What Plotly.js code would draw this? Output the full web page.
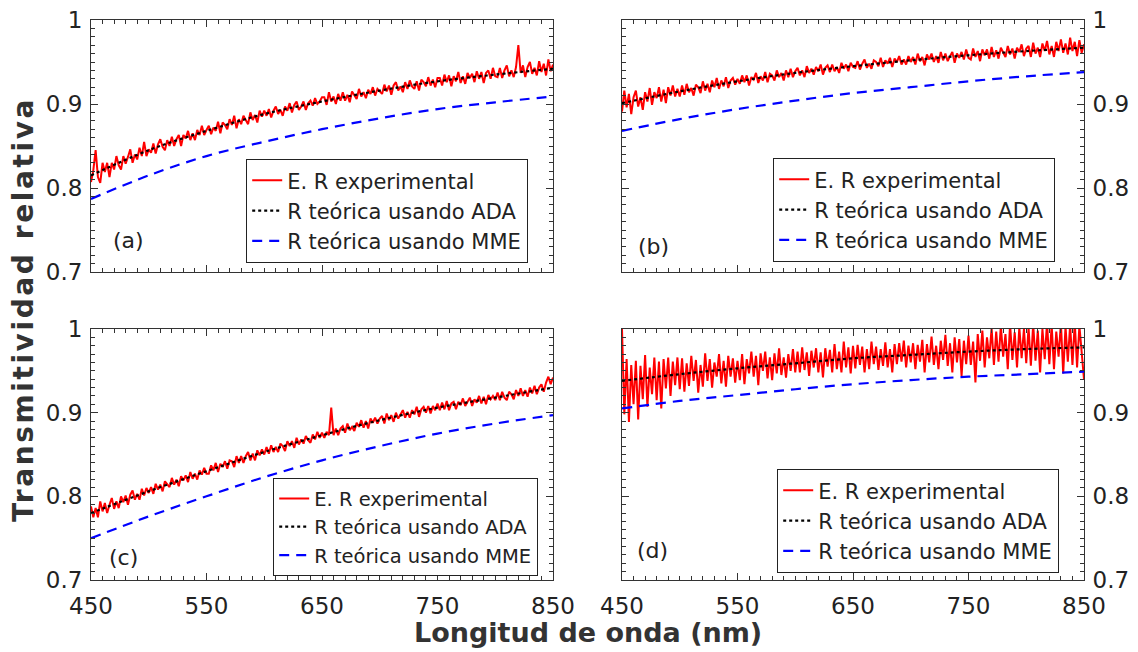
<!DOCTYPE html>
<html><head><meta charset="utf-8">
<script src="https://cdn.plot.ly/plotly-3.0.1.min.js"></script>
<style>
html,body{margin:0;padding:0;background:#fff}
#chart{width:1138px;height:652px}
.annotation[data-index="5"] .annotation-text{letter-spacing:2.6px}
</style>
</head><body><div id="chart"></div>
<script>
// Wavelength grid of the measured spectra (nm): start and step
const waveStart = 450, waveStep = 2;
// Wavelengths of the theoretical curves (nm)
const wlModel = [450,500,550,600,650,700,750,800,850];

// (a) measured relative transmittance
const expA = [.807,.821,.845,.813,.806,.830,.819,.830,.813,.830,.822,.838,.827,.822,.838,.829,.837,.846,.830,.840,.834,.848,.838,.855,.838,.846,
.842,.853,.841,.852,.858,.849,.845,.857,.850,.861,.850,.858,.863,.850,.863,.859,.868,.857,.865,.857,.869,.863,.874,.863,.869,
.874,.864,.872,.868,.879,.865,.878,.875,.870,.882,.875,.886,.871,.882,.876,.886,.881,.876,.890,.881,.887,.878,.892,.885,.892,
.886,.894,.884,.892,.897,.888,.893,.886,.897,.892,.901,.890,.899,.903,.893,.897,.903,.893,.901,.904,.898,.907,.900,.903,.908,
.908,.899,.914,.903,.909,.900,.912,.904,.914,.904,.911,.902,.915,.911,.906,.918,.909,.914,.907,.917,.912,.920,.910,.918,.915,
.912,.923,.915,.922,.911,.922,.926,.916,.921,.914,.926,.918,.928,.921,.918,.927,.916,.929,.926,.921,.932,.922,.929,.920,.931,
.931,.922,.935,.926,.934,.921,.933,.927,.938,.925,.933,.924,.937,.931,.936,.926,.939,.930,.938,.925,.937,.940,.930,.943,.933,
.932,.943,.931,.940,.946,.933,.940,.932,.944,.970,.937,.946,.932,.944,.950,.936,.943,.934,.951,.938,.948,.934,.953,.939,.947];
const adaA = [.815,.845,.868,.888,.903,.916,.927,.935,.942];
const mmeA = [.787,.815,.838,.855,.870,.883,.894,.902,.909];

// (b)
const expB = [.891,.916,.896,.912,.888,.908,.916,.897,.908,.893,.914,.903,.919,.899,.914,.907,.920,.903,.917,.901,.920,.910,.922,.909,.918,.909,
.922,.911,.924,.914,.919,.910,.923,.920,.913,.927,.916,.924,.914,.928,.920,.931,.918,.928,.921,.932,.919,.928,.931,.923,.930,
.924,.934,.926,.934,.922,.932,.929,.937,.925,.933,.928,.938,.926,.936,.934,.928,.940,.932,.937,.928,.940,.932,.942,.932,.939,
.943,.934,.940,.932,.945,.937,.942,.935,.944,.939,.947,.935,.943,.946,.938,.947,.939,.944,.937,.949,.942,.947,.939,.949,.944,
.943,.951,.941,.948,.953,.943,.948,.942,.952,.950,.945,.955,.944,.952,.948,.955,.944,.954,.950,.957,.947,.953,.947,.957,.950,
.956,.947,.960,.951,.956,.946,.959,.953,.960,.950,.957,.949,.962,.952,.960,.951,.957,.962,.949,.960,.955,.962,.953,.965,.955,
.953,.966,.956,.963,.951,.965,.958,.965,.954,.968,.956,.964,.954,.967,.962,.956,.969,.959,.966,.954,.967,.962,.971,.957,.966,
.969,.956,.973,.960,.967,.956,.972,.963,.975,.959,.969,.956,.974,.963,.977,.961,.972,.959,.979,.963,.974,.957,.976,.961,.971];
const adaB = [.901,.915,.927,.937,.945,.952,.958,.963,.967];
const mmeB = [.868,.882,.894,.904,.913,.920,.927,.933,.938];

// (c)
const expC = [.788,.775,.786,.775,.794,.782,.792,.780,.790,.798,.785,.794,.786,.800,.793,.801,.790,.802,.807,.796,.803,.796,.809,.801,.810,.804,
.811,.803,.815,.808,.814,.806,.818,.815,.811,.822,.814,.820,.812,.824,.819,.825,.817,.829,.821,.827,.820,.831,.826,.834,.827,
.827,.837,.831,.840,.829,.839,.835,.842,.833,.843,.842,.835,.848,.840,.848,.840,.848,.853,.843,.851,.843,.855,.849,.856,.850,
.859,.851,.861,.853,.859,.853,.863,.860,.854,.866,.860,.866,.858,.870,.862,.868,.863,.872,.867,.864,.874,.868,.877,.870,.876,
.870,.877,.873,.906,.873,.881,.873,.881,.884,.876,.887,.879,.883,.878,.888,.883,.891,.882,.890,.881,.893,.888,.894,.887,.893,
.896,.887,.899,.891,.897,.889,.900,.893,.898,.903,.894,.901,.894,.903,.898,.907,.895,.904,.907,.900,.908,.899,.908,.903,.911,
.903,.912,.904,.914,.903,.911,.913,.904,.913,.909,.917,.908,.913,.918,.908,.916,.912,.920,.911,.919,.910,.921,.916,.920,.915,
.924,.915,.925,.918,.915,.925,.922,.916,.927,.920,.929,.920,.927,.919,.930,.923,.932,.922,.930,.934,.925,.936,.943,.934,.942];
const adaC = [.780,.806,.830,.853,.873,.891,.906,.918,.930];
const mmeC = [.750,.776,.800,.823,.843,.860,.875,.887,.897];

// (d)
const expD = [1.0,.898,.964,.889,.957,.910,.962,.892,.956,.916,.969,.907,.954,.922,.966,.915,.961,.905,.964,.929,.966,.920,.961,.933,.966,.928,
.965,.925,.959,.932,.968,.938,.963,.924,.957,.931,.971,.938,.964,.930,.960,.943,.970,.935,.962,.931,.968,.943,.965,.936,.962,
.939,.970,.934,.964,.947,.973,.943,.968,.933,.971,.950,.973,.941,.966,.939,.971,.947,.977,.945,.966,.942,.970,.950,.976,.948,
.973,.948,.978,.951,.972,.944,.974,.954,.977,.948,.972,.942,.977,.955,.975,.948,.982,.952,.973,.948,.985,.954,.978,.947,.980,
.953,.981,.957,.979,.948,.976,.952,.985,.958,.979,.951,.976,.956,.984,.954,.976,.948,.982,.958,.983,.961,.986,.954,.980,.960,
.983,.952,.981,.961,.987,.948,.982,.960,.991,.957,.980,.952,.986,.963,.993,.956,.983,.948,.990,.960,.988,.944,.986,.958,.992,
.957,.985,.936,.994,.962,.998,.954,.990,.965,1.001,.957,.997,.961,1.004,.967,.994,.952,1.006,.963,.996,.954,1.002,.965,1.000,.959,
1.002,.956,1.006,.962,.998,.948,1.000,.964,1.008,.958,1.005,.952,.997,.967,1.007,.947,1.003,.961,1.005,.957,1.008,.954,1.004,.966,.940];
const adaD = [.938,.946,.953,.959,.965,.969,.973,.976,.978];
const mmeD = [.905,.914,.921,.928,.934,.939,.943,.946,.949];

const seriesNames = ['E. R experimental','R teórica usando ADA','R teórica usando MME'];
const panelLabels = ['(a)','(b)','(c)','(d)'];
const xTickVals = [450,550,650,750,850];
const yTickVals = [0.7,0.8,0.9,1];
const yTickText = ['0.7','0.8','0.9','1'];
const xTitle = 'Longitud de onda (nm)';
const yTitle = 'Transmitividad relativa';

const FONT = '"DejaVu Sans", Verdana, sans-serif';
const INK = '#222';
const W = 1138, H = 652;

const panels = [
  {exp: expA, ada: adaA, mme: mmeA, px:[91,553], py:[20,272], leg:[246,159], legFont:21, lab:[111,240], xlab:false, side:'left'},
  {exp: expB, ada: adaB, mme: mmeB, px:[622,1084], py:[20,272], leg:[773,158], legFont:21, lab:[636,247], xlab:false, side:'right'},
  {exp: expC, ada: adaC, mme: mmeC, px:[91,553], py:[329,580], leg:[273,478], legFont:19.5, lab:[107,557], xlab:true, side:'left'},
  {exp: expD, ada: adaD, mme: mmeD, px:[622,1084], py:[329,580], leg:[777,469], legFont:21, lab:[635,550], xlab:true, side:'right'}
];

const data = [];
const layout = {
  width: W, height: H, margin:{l:0,r:0,t:0,b:0},
  paper_bgcolor:'#fff', plot_bgcolor:'#fff',
  font:{family:FONT, color:INK},
  annotations: [],
  showlegend: true
};

panels.forEach((p, i) => {
  const s = i ? String(i+1) : '';
  const xa = 'x' + s, ya = 'y' + s, lg = 'legend' + s;
  data.push({type:'scatter', mode:'lines', x0:waveStart, dx:waveStep, y:p.exp, xaxis:xa, yaxis:ya, legend:lg,
    name:seriesNames[0], line:{color:'#ff0000', width:2}});
  data.push({type:'scatter', mode:'lines', x:wlModel, y:p.ada, xaxis:xa, yaxis:ya, legend:lg,
    name:seriesNames[1], line:{color:'#000', width:2.2, dash:'dot', shape:'spline'}});
  data.push({type:'scatter', mode:'lines', x:wlModel, y:p.mme, xaxis:xa, yaxis:ya, legend:lg,
    name:seriesNames[2], line:{color:'#0000ff', width:2.2, dash:'10px,7px', shape:'spline'}});

  layout['xaxis' + s] = {
    domain:[p.px[0]/W, p.px[1]/W], anchor:ya, range:[450,850],
    tickmode:'array', tickvals:xTickVals, showticklabels:p.xlab,
    ticks:'inside', ticklen:7, tickwidth:1, tickcolor:'#333',
    showline:true, linecolor:'#333', linewidth:1, mirror:'allticks',
    showgrid:false, zeroline:false, ticklabelstandoff:5,
    tickfont:{size:23, color:INK, family:FONT},
    minor:{tick0:450, dtick:10, ticks:'inside', ticklen:4, tickcolor:'#333', showgrid:false}
  };
  layout['yaxis' + s] = {
    domain:[1 - p.py[1]/H, 1 - p.py[0]/H], anchor:xa, range:[0.7,1], side:p.side,
    tickmode:'array', tickvals:yTickVals, ticktext:yTickText,
    ticks:'inside', ticklen:7, tickwidth:1, tickcolor:'#333',
    showline:true, linecolor:'#333', linewidth:1, mirror:'allticks',
    showgrid:false, zeroline:false, ticklabelstandoff:3,
    tickfont:{size:23, color:INK, family:FONT},
    minor:{tick0:0.7, dtick:0.01, ticks:'inside', ticklen:4, tickcolor:'#333', showgrid:false}
  };
  layout[lg] = {
    x:p.leg[0]/W, y:1 - p.leg[1]/H, xanchor:'left', yanchor:'top',
    bgcolor:'#fff', bordercolor:'#222', borderwidth:1.2,
    font:{size:p.legFont, color:INK, family:FONT}, itemwidth:30, tracegroupgap:0
  };
  layout.annotations.push({xref:'paper', yref:'paper', x:p.lab[0]/W, y:1 - p.lab[1]/H,
    xanchor:'left', yanchor:'middle', showarrow:false, text:panelLabels[i],
    font:{size:22, color:INK, family:FONT}});
});

layout.annotations.push({xref:'paper', yref:'paper', x:588/W, y:1 - 632/H, xanchor:'center', yanchor:'middle',
  showarrow:false, text:'<b>' + xTitle + '</b>', font:{size:27, color:'#333', family:FONT}});
layout.annotations.push({xref:'paper', yref:'paper', x:24/W, y:1 - 310/H, xanchor:'center', yanchor:'middle',
  showarrow:false, textangle:-90, text:'<b>' + yTitle + '</b>', font:{size:28, color:'#333', family:FONT}});

Plotly.newPlot('chart', data, layout, {staticPlot:true, displayModeBar:false});
</script>
</body></html>
